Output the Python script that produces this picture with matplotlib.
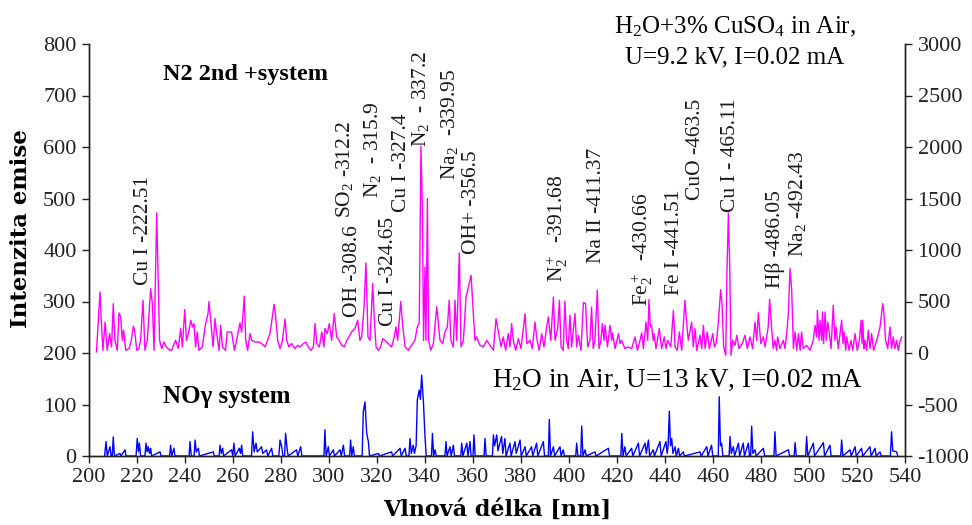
import matplotlib
matplotlib.use('Agg')
import matplotlib.pyplot as plt

# ---------------- data: magenta spectrum (H2O+3% CuSO4, right axis) ----------------
pink_nm_a = [203.1, 204.6, 205.1, 205.8, 206.7, 207.6, 208.6, 209.4, 210.1, 210.8, 211.8, 212.5, 213.2, 213.9,
             214.4, 215.3, 216.7, 217.6, 218.5, 219.0, 219.9, 220.8, 221.5, 222.5, 223.3, 224.3, 225.0, 225.7,
             226.4, 227.1, 228.2, 228.75, 229.4, 230.3, 231.25, 232.2, 233.3, 234.4, 235.4, 236.1, 237.2, 238.2,
             238.9, 239.9, 240.6, 241.4, 242.4, 243.1, 243.75, 244.4, 245.1, 245.8, 247.2, 248.6, 249.6, 250.0,
             250.7, 251.7, 252.5, 253.2, 254.2, 254.9, 255.6, 256.9, 257.6]
pink_int_a = [10, 593, 318, 26, 301, 26, 188, 59, 479, 123, 26, 389, 350, 123,
              221, 26, 43, 123, 259, 221, 26, 43, 123, 512, 26, 123, 382, 625,
              479, 26, 1360, 771, 123, 43, 107, 59, 33, 26, 85, 123, 43, 237,
              59, 421, 123, 188, 318, 253, 285, 59, 204, 26, 59, 285, 382, 500,
              318, 59, 334, 188, 26, 269, 59, 26, 204]

pink_nm_b = [259.4, 260.6, 261.5, 262.9, 263.6, 264.7, 265.3, 266.1, 267.1, 267.8, 269.2, 270.6, 272.0, 273.3,
             274.4, 275.4, 276.1, 277.1, 277.8, 278.6, 279.6, 280.6, 281.7, 282.4, 283.3, 284.4, 285.8, 287.0,
             287.9, 289.3, 290.3, 291.4, 292.5, 293.5, 294.2, 294.9, 296.0, 297.0, 297.9, 298.3, 299.3, 300.1,
             301.1, 302.2, 303.2, 304.2, 305.3, 306.4, 307.4, 308.3, 309.4, 310.8, 311.95, 312.9]
pink_int_b = [204, 26, 123, 292, 204, 551, 123, 26, 188, 123, 107, 107, 91, 59,
              123, 188, 301, 473, 350, 123, 43, 123, 330, 123, 59, 91, 43, 75,
              59, 91, 107, 59, 26, 59, 285, 91, 59, 204, 59, 237, 188, 285,
              123, 382, 156, 123, 75, 59, 123, 156, 204, 237, 318, 123]

pink_nm_c = [313.6, 314.6, 315.4, 316.25, 317.1, 318.2, 318.75, 319.6, 320.6, 321.5, 322.4, 323.3, 324.7, 326.1,
             327.2, 327.9, 328.6, 329.9, 330.7, 331.7, 333.1, 334.4, 335.8, 336.8, 337.6, 338.3, 338.9, 339.4,
             340.0, 340.4, 341.0, 341.5, 342.4, 343.5, 344.9, 346.25, 347.4, 348.3, 349.3, 350.1, 350.8, 351.8,
             352.5, 353.2, 354.3, 355.0, 356.0, 357.1, 358.1, 359.2, 359.9, 360.8, 361.5, 362.9, 364.3, 365.7,
             367.1, 368.5, 369.6]
pink_int_c = [156, 447, 874, 156, 123, 674, 382, 59, 26, 59, 140, 123, 91, 59,
              156, 253, 123, 500, 269, 59, 26, 75, 123, 253, 292, 2007, 1418, 123,
              835, 123, 1499, 123, 26, 91, 450, 123, 91, 204, 253, 512, 123, 59,
              512, 123, 971, 59, 123, 544, 641, 754, 479, 123, 156, 75, 59, 123,
              75, 26, 334]

pink_nm_d = [371.7, 372.6, 373.6, 374.7, 375.4, 376.1, 376.8, 377.8, 378.9, 380.0, 381.7, 382.4, 383.8, 384.7,
             385.8, 386.7, 387.6, 388.6, 389.6, 390.7, 391.4, 392.4, 393.5, 394.2, 395.3, 396.0, 396.7, 397.6,
             398.3, 399.0, 399.7, 400.4, 401.1, 402.5, 403.2, 403.9, 405.0, 406.0, 406.9, 407.8, 408.75, 409.4,
             410.1, 410.8, 411.8, 412.5, 413.3, 413.9, 414.6, 415.0, 416.0, 417.1, 417.8, 418.1, 419.2, 420.6,
             421.25, 421.9, 423.3, 424.7, 426.1]
pink_int_d = [59, 156, 26, 188, 59, 285, 123, 26, 140, 43, 382, 91, 123, 43,
              301, 123, 26, 188, 59, 253, 350, 123, 544, 123, 237, 512, 59, 26,
              505, 123, 43, 366, 59, 382, 59, 172, 26, 489, 479, 59, 123, 447,
              43, 123, 609, 43, 123, 285, 123, 269, 59, 269, 123, 195, 43, 188,
              91, 123, 43, 59, 43]

pink_nm_e = [427.5, 428.5, 429.6, 430.3, 431.0, 432.1, 432.8, 433.3, 433.9, 434.4, 435.1, 435.4, 436.25, 437.6,
             438.6, 439.7, 440.4, 441.1, 442.4, 443.5, 444.2, 445.1, 446.0, 446.95, 448.3, 449.0, 449.7, 451.1,
             451.8, 452.5, 453.2, 454.6, 455.3, 456.0, 456.7, 457.6, 458.5, 459.9, 460.6, 461.25, 461.8, 462.5,
             463.2, 463.75, 464.45, 465.3, 465.8, 466.4, 466.95, 467.5, 468.2, 469.2, 469.9, 470.8, 472.2, 473.3,
             474.3, 475.4, 476.5, 477.5, 478.2, 478.9, 479.9, 481.0, 481.7]
pink_int_e = [156, 26, 123, 195, 43, 301, 123, 518, 253, 269, 123, 188, 43, 237,
              43, 156, 43, 123, 59, 414, 59, 26, 204, 26, 512, 301, 123, 301,
              59, 237, 26, 172, 43, 269, 43, 204, 43, 188, 59, 91, 188, 382,
              615, 479, 59, -22, 771, 1360, 868, -22, 123, 75, 172, 43, 91, 172,
              43, 156, 43, 301, 123, 389, 91, 156, 59]

pink_nm_f = [483.0, 483.6, 484.4, 485.1, 485.8, 486.5, 486.9, 487.9, 489.3, 490.0, 490.7, 491.4, 492.1, 492.8,
             493.5, 494.2, 494.9, 495.6, 496.3, 496.9, 497.6, 499.0, 500.4, 501.8, 502.5, 503.2, 503.5, 504.2,
             504.6, 505.3, 505.6, 506.1, 506.7, 507.2, 507.8, 508.5, 509.2, 510.1, 510.8, 511.25, 512.2, 513.6,
             514.2, 514.6, 515.3, 515.7, 516.7, 517.5, 518.2, 519.2, 520.1, 521.0, 521.7, 522.1, 522.4, 522.9,
             523.3, 524.0, 524.7, 525.4, 526.1, 526.9, 527.8, 528.6, 529.6, 530.1, 530.7, 531.25, 531.9, 532.8,
             533.75, 534.4, 535.1, 535.8, 536.5, 537.2, 537.9, 538.6]
pink_int_f = [253, 520, 253, 43, 123, 26, 156, 43, 123, 43, 188, 382, 819, 609,
              43, 204, 26, 188, 26, 204, 43, 75, 26, 123, 269, 156, 414, 123,
              318, 123, 398, 91, 398, 123, 301, 188, 43, 463, 123, 253, 43, 318,
              91, 204, 26, 156, 26, 123, 26, 188, 26, 123, 318, 91, 318, 43,
              123, 26, 221, 43, 188, 26, 91, 156, 253, 350, 479, 382, 123, 43,
              253, 43, 156, 43, 123, 26, 107, 156]

# ---------------- data: blue spectrum (H2O in Air, left axis) ----------------
blue_nm_a = [206.5, 207.1, 207.6, 208.75, 209.2, 209.7, 210.1, 210.6, 212.9, 213.3, 215.0, 215.4, 219.6, 220.1,
             220.6, 221.0, 221.5, 223.3, 223.75, 224.2, 224.7, 225.2, 225.7, 226.1, 229.6, 230.0, 233.6, 234.0,
             234.5, 235.4, 235.8, 241.7, 242.1, 242.6, 243.8, 244.2, 244.7, 245.6, 246.0, 251.8, 252.2, 254.2,
             254.6, 255.1, 255.7, 256.1, 259.4, 259.9, 260.4, 260.9, 262.6, 263.1, 263.6, 264.0, 267.7, 268.2,
             268.8, 269.6, 270.1, 270.9, 271.9, 272.4, 274.0, 274.5, 276.1, 276.6, 279.1, 279.6, 280.3, 280.8,
             281.5, 281.9, 282.6, 283.0, 286.5, 287.0, 288.2, 288.7, 297.9, 298.3, 298.8]
blue_int_a = [0, 28, 0, 18, 0, 0, 37, 0, 5, 0, 12, 0, 0, 34,
              8, 25, 0, 0, 25, 8, 18, 5, 15, 0, 8, 0, 0, 21,
              0, 15, 0, 0, 28, 0, 0, 31, 8, 15, 0, 8, 0, 0,
              21, 5, 15, 0, 12, 0, 25, 0, 15, 5, 21, 0, 0, 47,
              8, 25, 8, 12, 18, 5, 12, 0, 15, 0, 0, 31, 18, 0,
              0, 44, 12, 0, 12, 0, 18, 0, 0, 51, 0]

blue_nm_b = [299.7, 300.2, 301.8, 302.3, 304.6, 305.1, 306.0, 306.5, 308.6, 309.0, 309.5, 310.1, 310.6, 313.8,
             314.3, 315.0, 315.7, 316.4, 316.9, 320.6, 321.0, 326.1, 326.5, 329.6, 330.1, 331.7, 332.2, 333.3,
             333.75, 334.3, 335.1, 335.6, 336.3, 336.8, 337.6, 338.1, 338.6, 339.3, 340.0, 340.5, 342.7, 343.1,
             343.6, 344.2, 344.7, 348.3, 348.75, 349.2, 350.4, 350.9, 351.8, 352.3, 354.9, 355.3, 355.8, 357.4,
             357.9, 358.75, 359.2, 360.0, 360.4, 360.9, 364.6, 365.0, 365.5, 368.1, 368.5, 369.0, 369.9, 370.4]
blue_int_b = [18, 0, 12, 0, 12, 0, 21, 0, 0, 31, 0, 18, 0, 0,
              86, 105, 44, 28, 0, 5, 0, 8, 0, 15, 0, 15, 0, 0,
              34, 5, 21, 5, 20, 109, 128, 110, 157, 109, 38, 0, 0, 44,
              0, 12, 0, 0, 28, 0, 18, 0, 21, 0, 0, 25, 0, 25,
              0, 28, 0, 0, 41, 0, 0, 34, 0, 0, 41, 20, 41, 10]

blue_nm_c = [371.9, 372.4, 373.3, 373.8, 375.4, 375.9, 377.5, 378.0, 379.6, 380.1, 381.7, 382.2, 384.4, 384.9,
             386.5, 387.0, 389.3, 389.8, 391.4, 391.8, 392.3, 393.5, 394.0, 396.25, 396.7, 397.6, 398.1, 402.8,
             403.2, 403.7, 404.9, 405.3, 405.8, 406.7, 407.2, 410.8, 411.3, 416.4, 416.9, 421.6, 422.0, 422.5,
             423.3, 423.8, 426.1, 426.6, 428.9, 429.4, 431.7, 432.2, 433.1, 433.6, 435.1, 435.6, 437.9, 438.4,
             440.4, 440.9, 441.3, 441.8, 442.3, 442.8, 443.3, 444.2, 444.7, 445.6, 446.1, 447.6, 448.1, 454.6,
             455.1, 457.4, 457.9, 459.4, 459.9, 462.2, 462.6, 463.1, 463.6, 464.1, 466.7, 467.1, 467.6, 468.5,
             469.0, 470.6, 471.1, 472.6, 473.1, 474.7, 475.2, 475.7, 476.1, 476.6, 477.5, 478.0, 481.0, 481.5,
             485.4, 485.8, 486.3, 491.4, 491.9, 493.8, 494.2, 494.7, 498.6, 499.0, 499.5, 501.8, 502.3, 506.0,
             506.5, 508.75, 509.2, 513.2, 513.6, 514.1, 517.1, 517.6, 519.2, 519.7, 521.9, 522.4, 525.4, 525.9,
             527.5, 528.0, 529.6, 530.1, 533.9, 534.4, 534.9, 536.5, 537.0]
blue_int_c = [38, 5, 34, 0, 25, 0, 28, 5, 31, 0, 18, 0, 18, 0,
              25, 0, 28, 0, 0, 71, 0, 18, 0, 18, 0, 12, 0, 0,
              25, 0, 0, 58, 0, 12, 0, 8, 0, 15, 0, 0, 44, 0,
              18, 0, 15, 0, 25, 0, 25, 5, 31, 0, 12, 0, 28, 0,
              28, 5, 20, 87, 20, 34, 5, 18, 0, 15, 0, 8, 0, 8,
              0, 18, 0, 21, 0, 0, 115, 20, 25, 0, 0, 38, 5, 18,
              0, 25, 0, 25, 0, 25, 0, 0, 58, 5, 12, 0, 15, 0,
              0, 47, 0, 12, 0, 0, 26, 0, 0, 38, 0, 25, 0, 26,
              0, 21, 0, 0, 31, 0, 12, 0, 18, 0, 15, 0, 18, 0,
              15, 0, 8, 0, 0, 47, 10, 8, 0]

pink_nm = pink_nm_a + pink_nm_b + pink_nm_c + pink_nm_d + pink_nm_e + pink_nm_f
pink_int = pink_int_a + pink_int_b + pink_int_c + pink_int_d + pink_int_e + pink_int_f
blue_nm = blue_nm_a + blue_nm_b + blue_nm_c
blue_int = blue_int_a + blue_int_b + blue_int_c

# ---------------- peak labels: (text, x in nm, bottom in left-axis units) ----------------
label_texts = ["Cu I -222.51", "SO$_2$ -312.2", "OH -308.6", "N$_2$  - 315.9", "Cu I -324.65",
               "Cu I -327.4", "N$_2$  - 337.2", "Na$_2$  -339.95", "OH+ -356.5", "N$_2^+$  -391.68",
               "Na II -411.37", "Fe$_2^+$  -430.66", "Fe I -441.51", "CuO -463.5", "Cu I - 465.11",
               "H\u03b2 -486.05", "Na$_2$ -492.43"]
label_x = [222.5, 306.3, 309.6, 318.3, 324.6, 330.0, 338.3, 350.4, 359.2, 395.0,
           411.3, 430.4, 443.8, 452.5, 467.1, 485.8, 495.0]
label_y = [332, 462, 270, 501, 252, 474, 600, 536, 392, 338,
           375, 291, 313, 497, 474, 326, 386]

x_ticks = list(range(200, 541, 20))
left_ticks = list(range(0, 801, 100))
right_ticks = list(range(-1000, 3001, 500))

# ---------------- figure ----------------
plt.rcParams['font.family'] = ['Liberation Serif', 'DejaVu Serif']
plt.rcParams['mathtext.fontset'] = 'custom'
plt.rcParams['mathtext.rm'] = 'Liberation Serif'
plt.rcParams['mathtext.it'] = 'Liberation Serif:italic'
plt.rcParams['mathtext.bf'] = 'Liberation Serif:bold'
plt.rcParams['axes.unicode_minus'] = False

fig = plt.figure(figsize=(9.72, 5.25), dpi=100)
ax = fig.add_axes([89 / 972, 1 - 456 / 525, 816 / 972, 412 / 525])
ax2 = ax.twinx()

ax.plot(blue_nm, blue_int, color='#0000FF', lw=1.0, zorder=2)
ax2.plot(pink_nm, pink_int, color='#FF00FF', lw=1.0, zorder=2)

ax.set_xlim(200, 540)
ax.set_ylim(0, 800)
ax2.set_ylim(-1000, 3000)
ax.set_xticks(x_ticks)
ax.set_yticks(left_ticks)
ax2.set_yticks(right_ticks)

for a in (ax, ax2):
    a.spines['top'].set_visible(False)
    for s in a.spines.values():
        s.set_color('#222222')
        s.set_linewidth(1.0)
    a.tick_params(direction='out', length=5, width=1, colors='#222222', labelsize=16, pad=4)
    a.patch.set_visible(False)

ax.set_ylabel('Intenzita emise', family='DejaVu Serif', fontweight='bold', fontsize=16.5)
ax.yaxis.set_label_coords(-0.07, 0.553)
ax.set_xlabel('Vlnová délka [nm]', family='DejaVu Serif', fontweight='bold', fontsize=16, labelpad=8)

for t, x, y in zip(label_texts, label_x, label_y):
    ax.text(x, y, t, rotation=90, ha='center', va='bottom', fontsize=15.5, color='#1a1a1a', zorder=5)

ax.text(230.8, 740, 'N2 2nd +system', fontsize=17.5, fontweight='bold', ha='left', va='center')
ax.text(230.8, 115, 'NO\u03b3 system', fontsize=18, fontweight='bold', ha='left', va='center')
ax.text(367.9, 148, 'H$_2$O in Air, U=13 kV, I=0.02 mA', fontsize=19.5, ha='left', va='center')
ax.text(469.2, 833, 'H$_2$O+3% CuSO$_4$ in Air,', fontsize=18, ha='center', va='center', clip_on=False)
ax.text(469.2, 773, 'U=9.2 kV, I=0.02 mA', fontsize=18, ha='center', va='center', clip_on=False)

fig.savefig('out.png', dpi=100)
